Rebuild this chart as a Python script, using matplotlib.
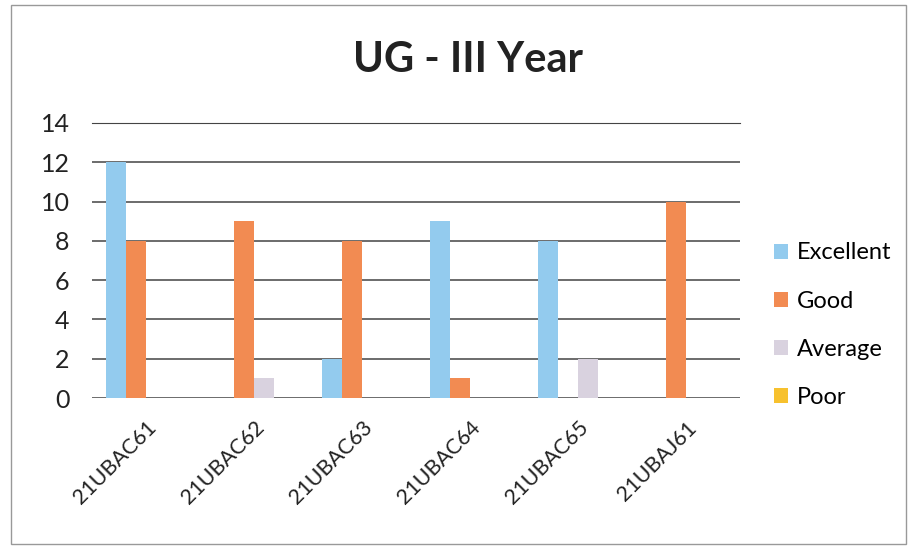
import numpy as np
import matplotlib.pyplot as plt
from matplotlib.patches import Rectangle

plt.rcParams['font.family'] = ['Lato', 'DejaVu Sans']

courses = ['21UBAC61', '21UBAC62', '21UBAC63', '21UBAC64', '21UBAC65', '21UBAJ61']
excellent = [12, 0, 2, 9, 8, 0]
good = [8, 9, 8, 1, 0, 10]
average = [0, 1, 0, 0, 2, 0]
poor = [0, 0, 0, 0, 0, 0]

series = [('Excellent', excellent, '#93CBEE'),
          ('Good', good, '#F28B52'),
          ('Average', average, '#D9D2DF'),
          ('Poor', poor, '#F7C12E')]

fig = plt.figure(figsize=(9.17, 5.49), dpi=100)
ax = fig.add_axes([0.100, 0.275, 0.707, 0.501])

x = np.arange(len(courses))
w = 0.185
for i, (name, vals, color) in enumerate(series):
    ax.bar(x + (i - 1.5) * w, vals, width=w, color=color, label=name, zorder=3)

ax.set_xlim(-0.5, len(courses) - 0.5)
ax.set_ylim(0, 14)
ax.set_yticks(range(0, 15, 2))
ax.yaxis.grid(True, color='#444444', linewidth=1.1, zorder=0)
ax.set_axisbelow(True)
for s in ['left', 'right', 'bottom']:
    ax.spines[s].set_visible(False)
ax.spines['top'].set_color('#444444')
ax.tick_params(axis='both', length=0, colors='#222222')
ax.tick_params(axis='y', pad=16, labelsize=18)
ax.set_xticks(x)
ax.set_xticklabels(courses, rotation=45, ha='right', rotation_mode='anchor', fontsize=15.5)
ax.tick_params(axis='x', pad=14)

fig.suptitle('UG - III Year', x=0.51, y=0.925, fontsize=30, fontweight='bold', color='#222222')

ax.legend(loc='center left', bbox_to_anchor=(1.02, 0.265), frameon=False,
          fontsize=17, handlelength=0.6, handleheight=0.6, handletextpad=0.35,
          labelspacing=1.15)

# outer chart border
fig.patches.append(Rectangle((0.012, 0.01), 0.976, 0.98, transform=fig.transFigure,
                             fill=False, edgecolor='#999999', linewidth=1.0))

fig.savefig('out.png', dpi=100)
